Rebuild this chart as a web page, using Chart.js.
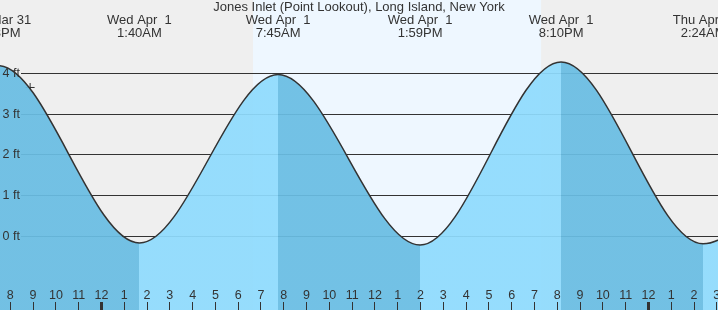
<!DOCTYPE html>
<html lang="en">
<head>
    <meta charset="UTF-8">
    <title>Jones Inlet (Point Lookout) tides</title>
    <script src="https://cdn.jsdelivr.net/npm/chart.js@4.4.1/dist/chart.umd.min.js"></script>
    <style>
        html, body {
            margin: 0;
            padding: 0;
            background-color: #efefef;
        }
        .chart-container {
            position: relative;
            width: 718px;
            height: 310px;
        }
    </style>
</head>
<body>
    <div class="chart-container">
        <canvas id="tideChart"></canvas>
    </div>

    <script>
        // all times are hours counted from Tue Mar 31 00:00
        const tideTimes = [13.25, 19.467, 25.667, 31.75, 37.983, 44.167, 50.4, 56.6];
        const tideHeights = [-0.2, 4.2, -0.17, 3.98, -0.22, 4.29, -0.19, 3.95];
        const tideLabels = [
            ['Tue Mar 31', '1:15PM'],
            ['Tue Mar 31', '7:28PM'],
            ['Wed Apr  1', '1:40AM'],
            ['Wed Apr  1', '7:45AM'],
            ['Wed Apr  1', '1:59PM'],
            ['Wed Apr  1', '8:10PM'],
            ['Thu Apr  2', '2:24AM'],
            ['Thu Apr  2', '8:31AM']
        ];
        const depthTicks = [0, 1, 2, 3, 4];
        const daylight = [30.65, 43.29];      // sunrise 6:39AM, sunset 7:17PM
        const nowMark = [{x: 20.87, y: 3.66}];
        const viewStart = 19.548;
        const viewEnd = 51.053;

        const FALLING = 'rgba(105, 189, 227, 0.93)';
        const RISING = 'rgba(143, 219, 253, 0.93)';
        const INK = '#333';

        Chart.defaults.font.family = '"Liberation Sans", Arial, sans-serif';
        Chart.defaults.font.size = 12.5;
        Chart.defaults.color = INK;

        const clamp01 = v => Math.min(1, Math.max(0, v));

        // dark under falling tide, light under rising tide
        function tideFill(context) {
            const chart = context.chart;
            const area = chart.chartArea;
            if (!area) return RISING;
            const xs = chart.scales.x;
            const w = area.right - area.left;
            const g = chart.ctx.createLinearGradient(area.left, 0, area.right, 0);
            for (let i = 0; i < tideTimes.length - 1; i++) {
                const c = tideHeights[i] > tideHeights[i + 1] ? FALLING : RISING;
                g.addColorStop(clamp01((xs.getPixelForValue(tideTimes[i]) - area.left) / w), c);
                g.addColorStop(clamp01((xs.getPixelForValue(tideTimes[i + 1]) - area.left) / w), c);
            }
            return g;
        }

        // grid lines start just right of the "ft" labels
        function gridColor(context) {
            const area = context.chart.chartArea;
            if (!area) return INK;
            const g = context.chart.ctx.createLinearGradient(0, 0, area.right, 0);
            const s = 21.5 / area.right;
            g.addColorStop(0, 'rgba(51,51,51,0)');
            g.addColorStop(s, 'rgba(51,51,51,0)');
            g.addColorStop(s, INK);
            g.addColorStop(1, INK);
            return g;
        }

        const background = {
            id: 'background',
            beforeDraw(chart) {
                const {ctx, width, height} = chart;
                const xs = chart.scales.x;
                ctx.save();
                ctx.fillStyle = '#efefef';
                ctx.fillRect(0, 0, width, height);
                const x0 = xs.getPixelForValue(daylight[0]);
                const x1 = xs.getPixelForValue(daylight[1]);
                ctx.fillStyle = '#eef7ff';
                ctx.fillRect(x0, 0, x1 - x0, height);
                ctx.restore();
            }
        };

        const noPad = s => { s.paddingLeft = 0; s.paddingRight = 0; s.paddingTop = 0; s.paddingBottom = 0; };

        new Chart(document.getElementById('tideChart'), {
            type: 'line',
            data: {
                datasets: [
                    {
                        label: 'Tide',
                        data: tideTimes.map((t, i) => ({x: t, y: tideHeights[i]})),
                        borderColor: INK,
                        borderWidth: 1.5,
                        backgroundColor: tideFill,
                        fill: 'start',
                        pointRadius: 0,
                        cubicInterpolationMode: 'monotone'
                    },
                    {
                        type: 'scatter',
                        label: 'Now',
                        data: nowMark,
                        pointStyle: 'cross',
                        pointRadius: 4.5,
                        borderColor: INK,
                        borderWidth: 1
                    }
                ]
            },
            options: {
                responsive: true,
                maintainAspectRatio: false,
                animation: false,
                layout: {padding: 0, autoPadding: false},
                scales: {
                    x: {
                        type: 'linear',
                        position: 'bottom',
                        min: viewStart,
                        max: viewEnd,
                        afterFit: s => { noPad(s); s.height = 0; },
                        border: {display: false},
                        grid: {
                            drawOnChartArea: false,
                            tickLength: -8,
                            tickColor: INK,
                            tickWidth: c => (c.tick && c.tick.value % 24 === 0) ? 3 : 1,
                            z: 1
                        },
                        ticks: {
                            stepSize: 1,
                            includeBounds: false,
                            autoSkip: false,
                            maxRotation: 0,
                            mirror: true,
                            padding: 6.5,
                            z: 1,
                            callback: v => String(Math.round(v) % 12 || 12)
                        }
                    },
                    x2: {
                        type: 'linear',
                        position: 'top',
                        min: viewStart,
                        max: viewEnd,
                        afterBuildTicks: s => { s.ticks = tideTimes.map(v => ({value: v})); },
                        afterFit: noPad,
                        border: {display: false},
                        grid: {drawOnChartArea: false, drawTicks: false},
                        ticks: {
                            autoSkip: false,
                            maxRotation: 0,
                            padding: 0,
                            font: {size: 13, lineHeight: 0.96},
                            callback: (v, i) => tideLabels[i]
                        }
                    },
                    y: {
                        type: 'linear',
                        position: 'left',
                        min: -1.82,
                        max: 4.848,
                        afterBuildTicks: s => { s.ticks = depthTicks.map(v => ({value: v})); },
                        afterFit: s => { noPad(s); s.width = 0; },
                        border: {display: false},
                        grid: {color: gridColor, drawTicks: false},
                        ticks: {
                            mirror: true,
                            padding: 2.5,
                            z: 1,
                            callback: v => v + ' ft'
                        }
                    }
                },
                plugins: {
                    legend: {display: false},
                    tooltip: {enabled: false},
                    title: {
                        display: true,
                        text: 'Jones Inlet (Point Lookout), Long Island, New York',
                        color: INK,
                        font: {size: 13, weight: 'normal', lineHeight: 1.1},
                        padding: {top: 0, bottom: 0}
                    }
                }
            },
            plugins: [background]
        });
    </script>
</body>
</html>
